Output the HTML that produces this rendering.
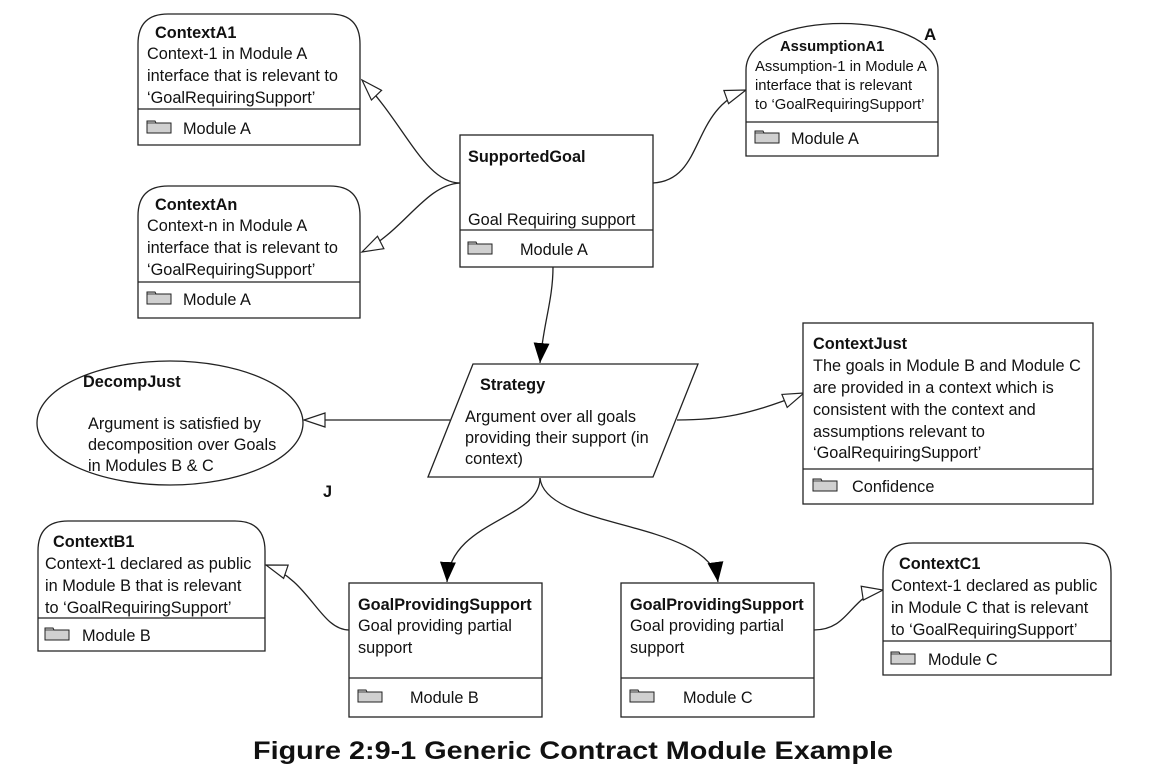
<!DOCTYPE html>
<html><head><meta charset="utf-8"><style>
html,body{margin:0;padding:0;background:#fff;}
svg{display:block;}
text{font-family:"Liberation Sans",sans-serif;font-size:16.3px;fill:#111;}
.b{font-weight:bold;}
.s{font-size:14.8px;}
</style></head><body>
<svg width="1168" height="780" viewBox="0 0 1168 780" xmlns="http://www.w3.org/2000/svg">
<defs>
<marker id="h" markerUnits="userSpaceOnUse" markerWidth="26" markerHeight="18" refX="22" refY="8" orient="auto">
<path d="M1,1 L22,8 L1,15 Z" fill="#fff" stroke="#222" stroke-width="1.2"/></marker>
<marker id="f" markerUnits="userSpaceOnUse" markerWidth="22" markerHeight="18" refX="20" refY="8" orient="auto">
<path d="M0,0 L20,8 L0,16 Z" fill="#000"/></marker>
<g id="fold"><path d="M0,2 H8 L9,4 H24 V14 H0 Z" fill="#d0d0d0" stroke="#222" stroke-width="1"/><path d="M0,4 H24" stroke="#222" stroke-width="0.8"/></g>
</defs>
<g fill="none" stroke="#222" stroke-width="1.3">
<path d="M460,183 C425,183 405,125 362,80" marker-end="url(#h)"/>
<path d="M460,183 C425,185 405,230 362,252" marker-end="url(#h)"/>
<path d="M653,183 C705,180 690,110 746,90" marker-end="url(#h)"/>
<path d="M553,267 C553,300 543,325 540,363" marker-end="url(#f)"/>
<path d="M450,420 L304,420" marker-end="url(#h)"/>
<path d="M677,420 C720,420 750,415 804,393" marker-end="url(#h)"/>
<path d="M540,478 C540,520 450,520 447,582" marker-end="url(#f)"/>
<path d="M540,478 C545,530 710,520 718,582" marker-end="url(#f)"/>
<path d="M349,630 C320,630 310,580 266,565" marker-end="url(#h)"/>
<path d="M814,630 C850,630 850,595 883,590" marker-end="url(#h)"/>
<path d="M138,145 V44 Q138,14 168,14 H330 Q360,14 360,44 V145 Z" fill="#fff"/><path d="M138,109 H360"/>
<path d="M138,318 V216 Q138,186 168,186 H330 Q360,186 360,216 V318 Z" fill="#fff"/><path d="M138,282 H360"/>
<rect x="460" y="135" width="193" height="132" fill="#fff"/><path d="M460,230 H653"/>
<path d="M746,156 V70 C746,8 938,8 938,70 V156 Z" fill="#fff"/><path d="M746,122 H938"/>
<path d="M473,364 L698,364 L653,477 L428,477 Z" fill="#fff"/>
<ellipse cx="170" cy="423" rx="133" ry="62" fill="#fff"/>
<rect x="803" y="323" width="290" height="181" fill="#fff"/><path d="M803,469 H1093"/>
<path d="M38,651 V551 Q38,521 68,521 H235 Q265,521 265,551 V651 Z" fill="#fff"/><path d="M38,618 H265"/>
<path d="M883,675 V573 Q883,543 913,543 H1081 Q1111,543 1111,573 V675 Z" fill="#fff"/><path d="M883,641 H1111"/>
<rect x="349" y="583" width="193" height="134" fill="#fff"/><path d="M349,678 H542"/>
<rect x="621" y="583" width="193" height="134" fill="#fff"/><path d="M621,678 H814"/>
</g>
<use href="#fold" x="147" y="119"/>
<use href="#fold" x="147" y="290"/>
<use href="#fold" x="468" y="240"/>
<use href="#fold" x="755" y="129"/>
<use href="#fold" x="813" y="477"/>
<use href="#fold" x="45" y="626"/>
<use href="#fold" x="891" y="650"/>
<use href="#fold" x="358" y="688"/>
<use href="#fold" x="630" y="688"/>
<text x="155" y="38" class="b">ContextA1</text>
<text x="147" y="59">Context-1 in Module A</text>
<text x="147" y="81">interface that is relevant to</text>
<text x="147" y="103">‘GoalRequiringSupport’</text>
<text x="183" y="134">Module A</text>
<text x="155" y="210" class="b">ContextAn</text>
<text x="147" y="231">Context-n in Module A</text>
<text x="147" y="253">interface that is relevant to</text>
<text x="147" y="275">‘GoalRequiringSupport’</text>
<text x="183" y="305">Module A</text>
<text x="468" y="162" class="b">SupportedGoal</text>
<text x="468" y="225">Goal Requiring support</text>
<text x="520" y="255">Module A</text>
<text x="780" y="51" class="b s">AssumptionA1</text>
<text x="755" y="71" class="s">Assumption-1 in Module A</text>
<text x="755" y="90" class="s">interface that is relevant</text>
<text x="755" y="109" class="s">to ‘GoalRequiringSupport’</text>
<text x="791" y="144">Module A</text>
<text x="924" y="40" class="b" style="font-size:17px">A</text>
<text x="480" y="390" class="b">Strategy</text>
<text x="465" y="422">Argument over all goals</text>
<text x="465" y="443">providing their support (in</text>
<text x="465" y="464">context)</text>
<text x="83" y="387" class="b">DecompJust</text>
<text x="88" y="429">Argument is satisfied by</text>
<text x="88" y="450">decomposition over Goals</text>
<text x="88" y="471">in Modules B &amp; C</text>
<text x="323" y="497" class="b">J</text>
<text x="813" y="349" class="b">ContextJust</text>
<text x="813" y="371">The goals in Module B and Module C</text>
<text x="813" y="393">are provided in a context which is</text>
<text x="813" y="415">consistent with the context and</text>
<text x="813" y="437">assumptions relevant to</text>
<text x="813" y="458">‘GoalRequiringSupport’</text>
<text x="852" y="492">Confidence</text>
<text x="53" y="547" class="b">ContextB1</text>
<text x="45" y="569">Context-1 declared as public</text>
<text x="45" y="591">in Module B that is relevant</text>
<text x="45" y="613">to ‘GoalRequiringSupport’</text>
<text x="82" y="641">Module B</text>
<text x="899" y="569" class="b">ContextC1</text>
<text x="891" y="591">Context-1 declared as public</text>
<text x="891" y="613">in Module C that is relevant</text>
<text x="891" y="635">to ‘GoalRequiringSupport’</text>
<text x="928" y="665">Module C</text>
<text x="358" y="610" class="b">GoalProvidingSupport</text>
<text x="358" y="631">Goal providing partial</text>
<text x="358" y="653">support</text>
<text x="410" y="703">Module B</text>
<text x="630" y="610" class="b">GoalProvidingSupport</text>
<text x="630" y="631">Goal providing partial</text>
<text x="630" y="653">support</text>
<text x="683" y="703">Module C</text>
<text x="253" y="759" class="b" style="font-size:25px" textLength="640" lengthAdjust="spacingAndGlyphs">Figure 2:9-1 Generic Contract Module Example</text>
</svg>
</body></html>
